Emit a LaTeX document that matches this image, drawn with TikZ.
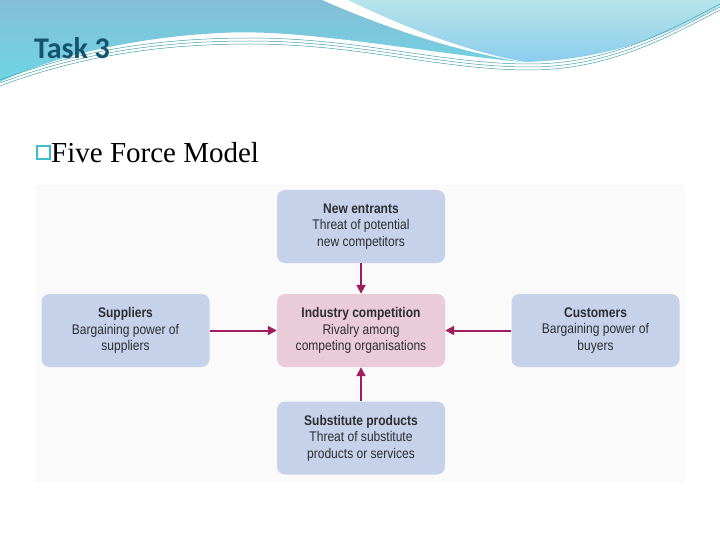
\documentclass[tikz,border=0pt]{standalone}
\usepackage{fontspec}
\setmainfont{Liberation Serif}
\newfontfamily\boxfont[FakeStretch=0.86]{Liberation Sans}
\newfontfamily\titlefont{Carlito}
\usepackage{xcolor}
\usepackage{tikz}
\usetikzlibrary{arrows.meta}
\definecolor{forceblue}{RGB}{198,210,234}
\definecolor{forcepink}{RGB}{234,204,216}
\definecolor{forcearrow}{RGB}{160,28,92}
\definecolor{boxtext}{RGB}{45,45,50}
\definecolor{titleteal}{RGB}{22,82,110}
\definecolor{glyphcyan}{RGB}{64,188,200}
\definecolor{wavedark}{RGB}{132,190,214}
\definecolor{wavecyan}{RGB}{110,214,228}
\definecolor{wavelight}{RGB}{182,228,234}
\definecolor{wavedeep}{RGB}{140,205,236}
\definecolor{waveline}{RGB}{70,160,175}

\tikzset{
  force/.style={rounded corners=8pt,fill=forceblue,minimum width=168pt,minimum height=73pt,
    inner sep=0pt,align=center,font=\boxfont\fontsize{14}{16.5}\selectfont,text=boxtext},
  rival/.style={force,fill=forcepink},
  push/.style={-{Triangle[length=9pt,width=9pt]},line width=2pt,forcearrow}
}

\begin{document}
\begin{tikzpicture}[x=1pt,y=-1pt]
        \useasboundingbox (0,0) rectangle (720,540);
        \fill[white] (0,0) rectangle (720,540);
        % header waves
        \shade[top color=wavedark,bottom color=wavecyan]
          (0,0) -- (322,0) .. controls (390,30) and (460,52) .. (522,62)
          .. controls (420,52) and (300,28) .. (220,33)
          .. controls (120,38) and (40,62) .. (0,82) -- cycle;
        \shade[top color=wavelight,bottom color=wavedeep]
          (348,0) -- (720,0) -- (720,6) .. controls (660,40) and (600,60) .. (525,62)
          .. controls (460,50) and (400,25) .. (348,0) -- cycle;
        \foreach \dy in {0,3,6}
          \draw[waveline,line width=0.5pt]
            (0,80+\dy) .. controls (80,50+\dy) and (160,38+\dy) .. (250,38+\dy)
            .. controls (360,38+\dy) and (440,64+\dy) .. (530,64+\dy)
            .. controls (610,64+\dy) and (670,30+\dy) .. (720,4+\dy);
        \node[anchor=west,inner sep=0pt,font=\titlefont\bfseries\fontsize{30}{32}\selectfont,text=titleteal] (task) at (34,48) {Task 3};
        % sub heading
        \node[draw=glyphcyan,line width=2pt,minimum size=13pt,inner sep=0pt] (glyph) at (43,152.5) {};
        \node[anchor=west,inner sep=0pt,font=\fontsize{29}{31}\selectfont] (heading) at (51,153) {Five Force Model};
        % diagram panel
        \fill[black!2] (36,185) rectangle (685,482);
        \node[force] (entrants) at (361,226.5) {\textbf{New entrants}\\Threat of potential\\new competitors};
        \node[force] (suppliers) at (125.5,330.5) {\textbf{Suppliers}\\Bargaining power of\\suppliers};
        \node[rival] (industry) at (361,330.5) {\textbf{Industry competition}\\Rivalry among\\competing organisations};
        \node[force] (customers) at (595.5,330.5) {\textbf{Customers}\\Bargaining power of\\buyers};
        \node[force] (substitutes) at (361,438) {\textbf{Substitute products}\\Threat of substitute\\products or services};
        \draw[push] (entrants) -- (industry);
        \draw[push] (suppliers) -- (industry);
        \draw[push] (customers) -- (industry);
        \draw[push] (substitutes) -- (industry);
      \end{tikzpicture}
\end{document}
